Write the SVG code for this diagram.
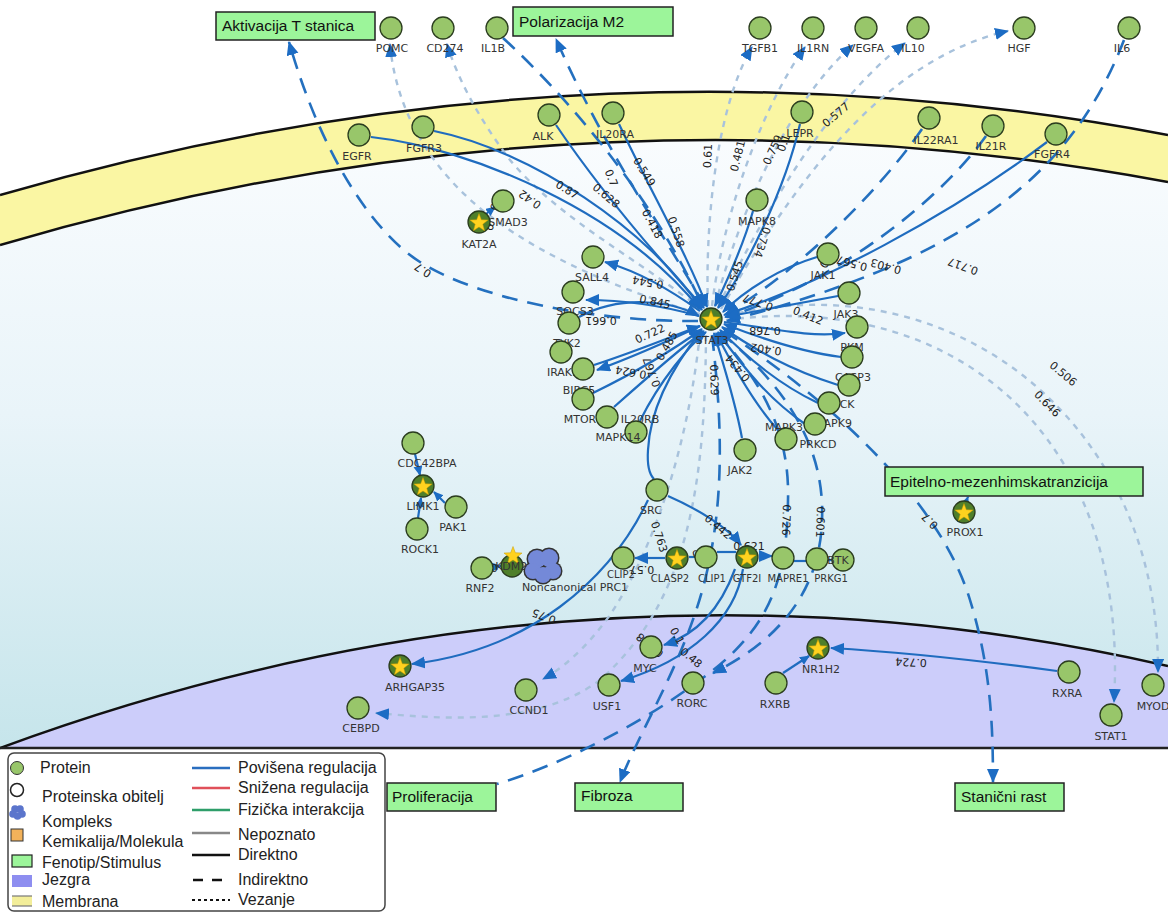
<svg xmlns="http://www.w3.org/2000/svg" width="1168" height="913" viewBox="0 0 1168 913">
<defs>
<linearGradient id="cyto" gradientUnits="userSpaceOnUse" x1="0" y1="140" x2="0" y2="748">
<stop offset="0" stop-color="#f9fcfe"/><stop offset="0.45" stop-color="#e9f4f9"/><stop offset="1" stop-color="#c6e5eb"/>
</linearGradient>
<marker id="arr" markerUnits="userSpaceOnUse" markerWidth="16" markerHeight="13" refX="13" refY="6" orient="auto"><path d="M0,0 L14,6 L0,12 Z" fill="#1c6cc4"/></marker>
<marker id="arrs" markerUnits="userSpaceOnUse" markerWidth="12" markerHeight="10" refX="9" refY="4.5" orient="auto"><path d="M0,0 L10,4.5 L0,9 Z" fill="#1c6cc4"/></marker>
<path id="star" d="M0,-9.5 L2.35,-3.24 L9.04,-2.94 L3.8,1.24 L5.58,7.69 L0,4 L-5.58,7.69 L-3.8,1.24 L-9.04,-2.94 L-2.35,-3.24 Z"/>
</defs>
<style>
.s{fill:none;stroke:#1f6cbf;stroke-width:2.2}
.d{fill:none;stroke:#2470bf;stroke-width:2.6;stroke-dasharray:16 10}
.o{fill:none;stroke:#a8c2dc;stroke-width:2.4;stroke-dasharray:6 6}
.a{marker-end:url(#arr)}
.as{marker-end:url(#arrs)}
.n{fill:#98c66a;stroke:#2b3d1f;stroke-width:1.3}
.ns{fill:#4f7f2a;stroke:#2b3d1f;stroke-width:1.3}
.st{fill:#ffd21f;stroke:#c89a00;stroke-width:0.5}
.lbl{font-family:"DejaVu Sans",sans-serif;font-size:11px;fill:#333;text-anchor:middle}
.sm{font-size:10px}
.el{font-family:"DejaVu Sans",sans-serif;font-size:11px;fill:#222;text-anchor:middle;dominant-baseline:central}
.ph{fill:#9cf59a;stroke:#222;stroke-width:1.5}
.pht{font-family:"Liberation Sans",sans-serif;font-size:15.5px;fill:#111}
.lg{font-family:"Liberation Sans",sans-serif;font-size:16px;fill:#222}
.edge{fill:none;stroke:#111;stroke-width:2.5}
</style>
<rect width="1168" height="913" fill="#fff"/>
<g id="compartments">
<path d="M0,245 Q584,73.6 1168,182 L1168,748 L0,748 Z" fill="url(#cyto)"/>
<path d="M0,195 Q584,25 1168,135 L1168,182 Q584,73.6 0,245 Z" fill="#faf6a3"/>
<path class="edge" d="M0,195 Q584,25 1168,135"/>
<path class="edge" d="M0,245 Q584,73.6 1168,182"/>
<path d="M0,748 Q584,533 1168,666 L1168,748 Z" fill="#cccdfa"/>
<path class="edge" d="M0,748 Q584,533 1168,666"/>
<line x1="0" y1="748" x2="1168" y2="748" stroke="#222" stroke-width="2.5"/>
</g>
<g id="connectors">
<path class="o a" d="M700,314 C620,290 520,250 460,190 C420,150 395,100 390,44"/>
<path class="o a" d="M702,310 C640,260 560,220 510,160 C480,120 458,80 447,44"/>
<path class="o a" d="M708,306 C705,230 715,110 752,47"/>
<path class="o a" d="M712,306 C722,220 760,110 805,47"/>
<path class="o a" d="M715,306 C740,210 790,100 853,45"/>
<path class="o a" d="M718,307 C765,210 830,100 905,43"/>
<path class="o a" d="M721,309 C790,190 880,60 1008,31"/>
<path class="o a" d="M726,316 C950,260 1160,420 1158,672"/>
<path class="o a" d="M726,320 C950,290 1130,430 1114,702"/>
<path class="o a" d="M700,333 C690,430 660,540 610,615 C585,650 560,670 543,679"/>
<path class="o a" d="M706,335 C705,480 690,600 600,680 C540,725 450,720 376,713"/>
<path class="d a" d="M698,321 C600,322 480,300 420,262 C370,230 320,150 289,42"/>
<path class="d a" d="M503,38 C560,90 650,190 703,307"/>
<path class="d a" d="M705,306 C660,230 600,140 556,39"/>
<path class="d a" d="M922,129 C880,190 800,270 726,314"/>
<path class="d a" d="M986,136 C940,200 840,280 727,317"/>
<path class="d a" d="M1124,40 C1070,180 960,260 727,321"/>
<path class="d a" d="M724,331 C830,400 940,500 970,600 C990,665 993,720 993,782"/>
<path class="d a" d="M712,335 C722,420 725,500 705,580 C685,660 640,730 620,782"/>
<path class="d" d="M717,333 C760,380 790,430 788,500 C787,580 770,630 700,680 C640,725 560,765 497,784"/>
<path class="d a" d="M720,332 C790,390 825,450 822,520 C820,590 780,640 713,673"/>
<path class="d as" d="M958,522 L968,497"/>
<path class="s a" d="M371,137 C470,148 620,210 700,309"/>
<path class="s a" d="M434,131 C530,150 650,230 702,310"/>
<path class="s a" d="M556,125 C600,190 660,260 704,308"/>
<path class="s a" d="M619,124 C650,190 690,260 707,307"/>
<path class="s a" d="M753,211 C742,250 725,285 715,306"/>
<path class="s a" d="M800,124 C785,190 745,270 718,308"/>
<path class="s a" d="M817,257 C780,268 745,290 723,312"/>
<path class="s a" d="M1047,142 C950,215 820,285 724,315"/>
<path class="s a" d="M838,296 C790,305 750,312 725,317"/>
<path class="s a" d="M724,322 C770,328 810,338 845,333"/>
<path class="s a" d="M841,357 C800,352 760,338 724,324"/>
<path class="s a" d="M838,385 C790,370 755,350 722,327"/>
<path class="s a" d="M818,403 C780,385 750,360 720,330"/>
<path class="s a" d="M805,424 C770,400 745,370 718,332"/>
<path class="s a" d="M778,430 C755,405 735,370 716,333"/>
<path class="s a" d="M742,438 C735,400 722,360 714,333"/>
<path class="s a" d="M579,317 C620,295 670,300 699,316"/>
<path class="s a" d="M700,311 C670,290 640,272 605,262"/>
<path class="s a" d="M699,316 C660,305 625,300 586,300"/>
<path class="s a" d="M700,326 C660,345 630,358 597,370"/>
<path class="s a" d="M594,365 C640,350 675,335 700,326"/>
<path class="s a" d="M593,393 C640,370 680,345 702,329"/>
<path class="s a" d="M614,407 C650,375 685,345 704,331"/>
<path class="s a" d="M640,421 C660,380 690,345 706,332"/>
<path class="s" d="M702,330 C670,370 650,410 648,450 C647,465 650,475 654,479"/>
<path class="s a" d="M648,500 C610,580 530,650 412,664"/>
<path class="s a" d="M668,496 C700,510 728,528 741,545"/>
<path class="s a" d="M665,558 L635,558"/>
<path class="s" d="M689,557 L695,557"/>
<path class="s" d="M717,552 L736,552"/>
<path class="s a" d="M759,556 L772,556"/>
<path class="s" d="M794,561 L806,561"/>
<path class="s" d="M828,560 L832,560"/>
<path class="s a" d="M743,569 C735,620 690,660 621,681"/>
<path class="s a" d="M735,569 C720,610 695,635 664,645"/>
<path class="s a" d="M1057,671 C990,662 900,652 831,648"/>
<path class="s as" d="M783,673 L809,656"/>
<path class="s as" d="M486,214 L495,207"/>
<path class="s as" d="M415,454 L420,475"/>
<path class="s as" d="M445,503 L434,492"/>
<path class="s as" d="M418,518 L421,498"/>
<path class="s as" d="M493,567 L501,566"/>
</g>
<g id="edge-labels">
<text class="el" transform="translate(567,190) rotate(32)">0.87</text>
<text class="el" transform="translate(606,196) rotate(40)">0.628</text>
<text class="el" transform="translate(611,178) rotate(68)">0.7</text>
<text class="el" transform="translate(652,224) rotate(62)">0.418</text>
<text class="el" transform="translate(644,172) rotate(58)">0.549</text>
<text class="el" transform="translate(676,232) rotate(72)">0.558</text>
<text class="el" transform="translate(530,199) rotate(215)">0.42</text>
<text class="el" transform="translate(497,202) rotate(-70)">0.5</text>
<text class="el" transform="translate(490,227) rotate(-60)">0</text>
<text class="el" transform="translate(423,270) rotate(213)">0.7</text>
<text class="el" transform="translate(708,156) rotate(-88)">0.61</text>
<text class="el" transform="translate(738,156) rotate(-76)">0.481</text>
<text class="el" transform="translate(773,150) rotate(-65)">0.759</text>
<text class="el" transform="translate(784,143) rotate(-70)">0.1</text>
<text class="el" transform="translate(836,115) rotate(-40)">0.577</text>
<text class="el" transform="translate(762,242) rotate(108)">0.734</text>
<text class="el" transform="translate(735,276) rotate(-72)">0.545</text>
<text class="el" transform="translate(829,257) rotate(-60)">0.19</text>
<text class="el" transform="translate(852,263) rotate(195)">0.567</text>
<text class="el" transform="translate(886,266) rotate(195)">0.403</text>
<text class="el" transform="translate(963,266) rotate(200)">0.717</text>
<text class="el" transform="translate(758,302) rotate(200)">0.777</text>
<text class="el" transform="translate(808,316) rotate(22)">0.412</text>
<text class="el" transform="translate(765,330) rotate(180)">0.768</text>
<text class="el" transform="translate(766,349) rotate(188)">0.402</text>
<text class="el" transform="translate(738,368) rotate(230)">0.434</text>
<text class="el" transform="translate(714,380) rotate(88)">0.629</text>
<text class="el" transform="translate(648,282) rotate(190)">0.544</text>
<text class="el" transform="translate(655,302) rotate(12)">0.845</text>
<text class="el" transform="translate(601,320) rotate(180)">0.661</text>
<text class="el" transform="translate(650,334) rotate(-25)">0.722</text>
<text class="el" transform="translate(667,346) rotate(-60)">0.485</text>
<text class="el" transform="translate(652,372) rotate(250)">0.767</text>
<text class="el" transform="translate(631,372) rotate(190)">0.624</text>
<text class="el" transform="translate(718,527) rotate(40)">0.442</text>
<text class="el" transform="translate(659,537) rotate(72)">0.763</text>
<text class="el" transform="translate(701,553) rotate(-20)">0.7</text>
<text class="el" transform="translate(642,569) rotate(180)">0.57</text>
<text class="el" transform="translate(749,546)">0.621</text>
<text class="el" transform="translate(786,520) rotate(92)">0.726</text>
<text class="el" transform="translate(820,522) rotate(92)">0.601</text>
<text class="el" transform="translate(691,658) rotate(40)">0.48</text>
<text class="el" transform="translate(677,636) rotate(60)">0.1</text>
<text class="el" transform="translate(650,645) rotate(220)">0.578</text>
<text class="el" transform="translate(544,616) rotate(200)">0.75</text>
<text class="el" transform="translate(911,662) rotate(183)">0.724</text>
<text class="el" transform="translate(1063,374) rotate(40)">0.506</text>
<text class="el" transform="translate(1047,404) rotate(45)">0.646</text>
<text class="el" transform="translate(930,521) rotate(225)">0.7</text>
<text class="el" transform="translate(489,567) rotate(180)">0.6</text>
</g>
<g id="n-POMC"><circle class="n" cx="391" cy="28" r="11"/><text class="lbl" x="392" y="52">POMC</text></g>
<g id="n-CD274"><circle class="n" cx="443" cy="28" r="11"/><text class="lbl" x="445" y="52">CD274</text></g>
<g id="n-IL1B"><circle class="n" cx="497" cy="28" r="11"/><text class="lbl" x="493" y="52">IL1B</text></g>
<g id="n-TGFB1"><circle class="n" cx="760" cy="28" r="11"/><text class="lbl" x="760" y="52">TGFB1</text></g>
<g id="n-IL1RN"><circle class="n" cx="813" cy="28" r="11"/><text class="lbl" x="813" y="52">IL1RN</text></g>
<g id="n-VEGFA"><circle class="n" cx="866" cy="28" r="11"/><text class="lbl" x="866" y="52">VEGFA</text></g>
<g id="n-IL10"><circle class="n" cx="918" cy="28" r="11"/><text class="lbl" x="913" y="52">IL10</text></g>
<g id="n-HGF"><circle class="n" cx="1024" cy="28" r="11"/><text class="lbl" x="1019" y="52">HGF</text></g>
<g id="n-IL6"><circle class="n" cx="1129" cy="28" r="11"/><text class="lbl" x="1122" y="52">IL6</text></g>
<g id="n-EGFR"><circle class="n" cx="359" cy="135" r="11"/><text class="lbl" x="357" y="160">EGFR</text></g>
<g id="n-FGFR3"><circle class="n" cx="423" cy="127" r="11"/><text class="lbl" x="424" y="152">FGFR3</text></g>
<g id="n-ALK"><circle class="n" cx="549" cy="115" r="11"/><text class="lbl" x="543" y="140">ALK</text></g>
<g id="n-IL20RA"><circle class="n" cx="613" cy="113" r="11"/><text class="lbl" x="615" y="138">IL20RA</text></g>
<g id="n-LEPR"><circle class="n" cx="802" cy="112" r="11"/><text class="lbl" x="800" y="137">LEPR</text></g>
<g id="n-IL22RA1"><circle class="n" cx="929" cy="118" r="11"/><text class="lbl" x="936" y="144">IL22RA1</text></g>
<g id="n-IL21R"><circle class="n" cx="993" cy="126" r="11"/><text class="lbl" x="991" y="150">IL21R</text></g>
<g id="n-FGFR4"><circle class="n" cx="1056" cy="134" r="11"/><text class="lbl" x="1052" y="158">FGFR4</text></g>
<g id="n-SMAD3"><circle class="n" cx="503" cy="201" r="11"/><text class="lbl" x="508" y="226">SMAD3</text></g>
<g id="n-KAT2A"><circle class="ns" cx="479" cy="222" r="11"/><use href="#star" class="st" x="479" y="223"/><text class="lbl" x="479" y="248">KAT2A</text></g>
<g id="n-MAPK8"><circle class="n" cx="757" cy="200" r="11"/><text class="lbl" x="757" y="225">MAPK8</text></g>
<g id="n-SALL4"><circle class="n" cx="593" cy="257" r="11"/><text class="lbl" x="592" y="281">SALL4</text></g>
<g id="n-SOCS3"><circle class="n" cx="573" cy="292" r="11"/><text class="lbl" x="575" y="315">SOCS3</text></g>
<g id="n-TYK2"><circle class="n" cx="569" cy="323" r="11"/><text class="lbl" x="567" y="347">TYK2</text></g>
<g id="n-IRAK1"><circle class="n" cx="561" cy="352" r="11"/><text class="lbl" x="563" y="376">IRAK1</text></g>
<g id="n-BIRC5"><circle class="n" cx="583" cy="369" r="11"/><text class="lbl" x="579" y="394">BIRC5</text></g>
<g id="n-MTOR"><circle class="n" cx="583" cy="399" r="11"/><text class="lbl" x="580" y="423">MTOR</text></g>
<g id="n-IL20RB"><circle class="n" cx="607" cy="417" r="11"/><text class="lbl" x="640" y="423">IL20RB</text></g>
<g id="n-MAPK14"><circle class="n" cx="636" cy="432" r="11"/><text class="lbl" x="618" y="441">MAPK14</text></g>
<g id="n-STAT3"><circle class="ns" cx="711" cy="319" r="11"/><use href="#star" class="st" x="711" y="320"/><text class="lbl" x="712" y="344">STAT3</text></g>
<g id="n-JAK1"><circle class="n" cx="828" cy="254" r="11"/><text class="lbl" x="823" y="279">JAK1</text></g>
<g id="n-JAK3"><circle class="n" cx="849" cy="293" r="11"/><text class="lbl" x="846" y="318">JAK3</text></g>
<g id="n-PKM"><circle class="n" cx="857" cy="327" r="11"/><text class="lbl" x="852" y="351">PKM</text></g>
<g id="n-CASP3"><circle class="n" cx="852" cy="357" r="11"/><text class="lbl" x="853" y="381">CASP3</text></g>
<g id="n-HCK"><circle class="n" cx="849" cy="385" r="11"/><text class="lbl" x="843" y="408">HCK</text></g>
<g id="n-MAPK9"><circle class="n" cx="829" cy="403" r="11"/><text class="lbl" x="833" y="427">MAPK9</text></g>
<g id="n-MAPK3"><circle class="n" cx="815" cy="424" r="11"/><text class="lbl" x="784" y="431">MAPK3</text></g>
<g id="n-PRKCD"><circle class="n" cx="786" cy="439" r="11"/><text class="lbl" x="818" y="448">PRKCD</text></g>
<g id="n-JAK2"><circle class="n" cx="745" cy="450" r="11"/><text class="lbl" x="740" y="474">JAK2</text></g>
<g id="n-SRC"><circle class="n" cx="657" cy="490" r="11"/><text class="lbl" x="651" y="514">SRC</text></g>
<g id="n-CDC42BPA"><circle class="n" cx="413" cy="443" r="11"/><text class="lbl" x="427" y="467">CDC42BPA</text></g>
<g id="n-LIMK1"><circle class="ns" cx="423" cy="486" r="11"/><use href="#star" class="st" x="423" y="487"/><text class="lbl" x="423" y="510">LIMK1</text></g>
<g id="n-PAK1"><circle class="n" cx="456" cy="507" r="11"/><text class="lbl" x="453" y="531">PAK1</text></g>
<g id="n-ROCK1"><circle class="n" cx="417" cy="529" r="11"/><text class="lbl" x="420" y="553">ROCK1</text></g>
<g id="n-RNF2"><circle class="n" cx="482" cy="568" r="11"/><text class="lbl" x="480" y="592">RNF2</text></g>
<g id="n-KDM2B"><circle class="ns" cx="512" cy="566" r="11"/><use href="#star" class="st" x="513" y="556"/><text class="lbl" x="515" y="570">KDM2B</text></g>
<g id="n-PRC1">
<g fill="#333"><circle cx="537" cy="559" r="10.5"/><circle cx="549" cy="558" r="10.5"/><circle cx="533" cy="571" r="9.5"/><circle cx="553" cy="571" r="9.5"/><circle cx="543" cy="575" r="9.5"/></g>
<g fill="#7489d8"><circle cx="537" cy="559" r="9"/><circle cx="549" cy="558" r="9"/><circle cx="533" cy="571" r="8"/><circle cx="553" cy="571" r="8"/><circle cx="543" cy="575" r="8"/></g>
<text class="lbl" x="575" y="591">Noncanonical PRC1</text></g>
<g id="n-CLIP2"><circle class="n" cx="623" cy="558" r="11"/><text class="lbl sm" x="621" y="578">CLIP2</text></g>
<g id="n-CLASP2"><circle class="ns" cx="677" cy="558" r="11"/><use href="#star" class="st" x="677" y="559"/><text class="lbl sm" x="670" y="582">CLASP2</text></g>
<g id="n-CLIP1"><circle class="n" cx="706" cy="557" r="11"/><text class="lbl sm" x="712" y="582">CLIP1</text></g>
<g id="n-GTF2I"><circle class="ns" cx="747" cy="557" r="11"/><use href="#star" class="st" x="747" y="558"/><text class="lbl sm" x="747" y="582">GTF2I</text></g>
<g id="n-MAPRE1"><circle class="n" cx="783" cy="558" r="11"/><text class="lbl sm" x="788" y="582">MAPRE1</text></g>
<g id="n-PRKG1"><circle class="n" cx="817" cy="559" r="11"/><text class="lbl sm" x="831" y="582">PRKG1</text></g>
<g id="n-BTK"><circle class="n" cx="843" cy="560" r="11"/><text class="lbl" x="838" y="564">BTK</text></g>
<g id="n-PROX1"><circle class="ns" cx="964" cy="512" r="11"/><use href="#star" class="st" x="964" y="513"/><text class="lbl" x="965" y="536">PROX1</text></g>
<g id="n-ARHGAP35"><circle class="ns" cx="400" cy="666" r="11"/><use href="#star" class="st" x="400" y="667"/><text class="lbl" x="415" y="691">ARHGAP35</text></g>
<g id="n-CEBPD"><circle class="n" cx="358" cy="708" r="11"/><text class="lbl" x="361" y="732">CEBPD</text></g>
<g id="n-CCND1"><circle class="n" cx="526" cy="690" r="11"/><text class="lbl" x="529" y="714">CCND1</text></g>
<g id="n-MYC"><circle class="n" cx="651" cy="647" r="11"/><text class="lbl" x="645" y="672">MYC</text></g>
<g id="n-USF1"><circle class="n" cx="609" cy="685" r="11"/><text class="lbl" x="607" y="710">USF1</text></g>
<g id="n-RORC"><circle class="n" cx="693" cy="683" r="11"/><text class="lbl" x="692" y="707">RORC</text></g>
<g id="n-RXRB"><circle class="n" cx="776" cy="683" r="11"/><text class="lbl" x="775" y="708">RXRB</text></g>
<g id="n-NR1H2"><circle class="ns" cx="818" cy="648" r="11"/><use href="#star" class="st" x="818" y="649"/><text class="lbl" x="821" y="673">NR1H2</text></g>
<g id="n-RXRA"><circle class="n" cx="1069" cy="672" r="11"/><text class="lbl" x="1067" y="697">RXRA</text></g>
<g id="n-STAT1"><circle class="n" cx="1111" cy="715" r="11"/><text class="lbl" x="1111" y="740">STAT1</text></g>
<g id="n-MYOD"><circle class="n" cx="1153" cy="685" r="11"/><text class="lbl" x="1153" y="710">MYOD</text></g>
<g id="p-aktivacija"><rect class="ph" x="216" y="12" width="159" height="28"/><text class="pht" x="222" y="31">Aktivacija T stanica</text></g>
<g id="p-polarizacija"><rect class="ph" x="513" y="7" width="160" height="29"/><text class="pht" x="519" y="27">Polarizacija M2</text></g>
<g id="p-emt"><rect class="ph" x="885" y="467" width="258" height="29"/><text class="pht" x="890" y="487">Epitelno-mezenhimskatranzicija</text></g>
<g id="p-proliferacija"><rect class="ph" x="387" y="783" width="109" height="28"/><text class="pht" x="392" y="802">Proliferacija</text></g>
<g id="p-fibroza"><rect class="ph" x="575" y="783" width="108" height="28"/><text class="pht" x="581" y="801">Fibroza</text></g>
<g id="p-rast"><rect class="ph" x="955" y="783" width="109" height="28"/><text class="pht" x="961" y="802">Stanični rast</text></g>
<g id="legend">
<rect x="8" y="753" width="377" height="158" rx="6" fill="#fff" stroke="#444" stroke-width="1.5"/>
<circle cx="17" cy="768" r="6.5" fill="#98c66a" stroke="#333" stroke-width="1"/>
<circle cx="17" cy="790" r="6.5" fill="#fff" stroke="#222" stroke-width="1.5"/>
<g fill="#5b75cc"><circle cx="15" cy="809" r="3.8"/><circle cx="20" cy="809" r="3.8"/><circle cx="13" cy="814" r="3.8"/><circle cx="22" cy="814" r="3.8"/><circle cx="17.5" cy="816" r="3.8"/></g>
<rect x="11" y="829" width="12" height="12" fill="#f3b25a" stroke="#333" stroke-width="1"/>
<rect x="12" y="855" width="20" height="12" fill="#9cf59a" stroke="#222" stroke-width="1.2"/>
<rect x="12" y="875" width="20" height="12" fill="#8e8ef0"/>
<rect x="12" y="896" width="20" height="10" fill="#f3ee9a"/>
<line x1="12" y1="896" x2="32" y2="896" stroke="#777" stroke-width="1.2"/>
<line x1="12" y1="906" x2="32" y2="906" stroke="#777" stroke-width="1.2"/>
<text class="lg" x="40" y="773">Protein</text>
<text class="lg" x="42" y="802">Proteinska obitelj</text>
<text class="lg" x="42" y="827">Kompleks</text>
<text class="lg" x="42" y="847">Kemikalija/Molekula</text>
<text class="lg" x="42" y="868">Fenotip/Stimulus</text>
<text class="lg" x="42" y="885">Jezgra</text>
<text class="lg" x="42" y="907">Membrana</text>
<line x1="192" y1="768" x2="230" y2="768" stroke="#2a6ebf" stroke-width="2.5"/>
<line x1="192" y1="788" x2="230" y2="788" stroke="#e0505a" stroke-width="2.5"/>
<line x1="192" y1="810" x2="230" y2="810" stroke="#2e9e6a" stroke-width="2.5"/>
<line x1="192" y1="833" x2="230" y2="833" stroke="#888" stroke-width="2.5"/>
<line x1="192" y1="855" x2="230" y2="855" stroke="#111" stroke-width="2.5"/>
<line x1="193" y1="880" x2="230" y2="880" stroke="#111" stroke-width="2.5" stroke-dasharray="10 9"/>
<line x1="192" y1="900" x2="230" y2="900" stroke="#111" stroke-width="2" stroke-dasharray="3 3"/>
<text class="lg" x="238" y="773">Povišena regulacija</text>
<text class="lg" x="238" y="793">Snižena regulacija</text>
<text class="lg" x="238" y="815">Fizička interakcija</text>
<text class="lg" x="238" y="840">Nepoznato</text>
<text class="lg" x="238" y="860">Direktno</text>
<text class="lg" x="238" y="885">Indirektno</text>
<text class="lg" x="238" y="905">Vezanje</text>
</g>
</svg>
